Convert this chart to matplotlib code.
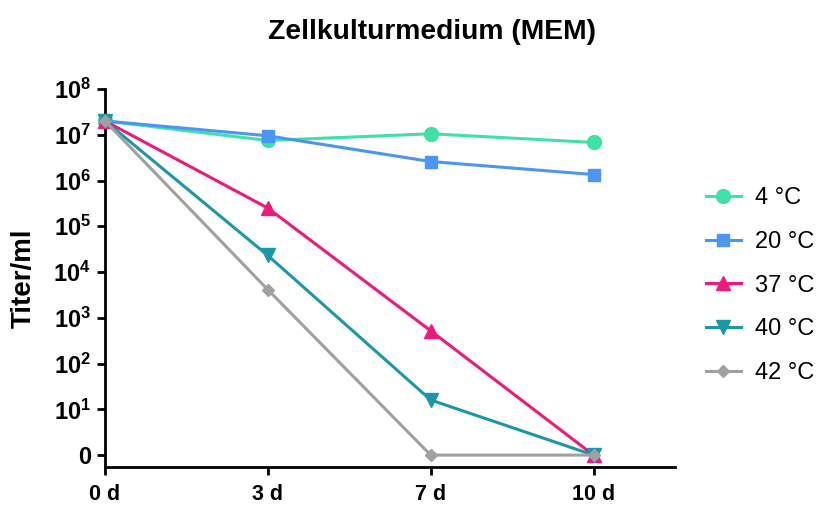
import matplotlib.pyplot as plt
from matplotlib.ticker import FixedLocator, NullLocator

plt.rcParams["font.family"] = ["Liberation Sans", "DejaVu Sans"]
plt.rcParams["mathtext.fontset"] = "custom"
plt.rcParams["mathtext.bf"] = "Liberation Sans:bold"
plt.rcParams["mathtext.rm"] = "Liberation Sans"

days = ["0 d", "3 d", "7 d", "10 d"]
# titers; 1 stands for "0" (below detection)
t4 = [2.0e7, 7.5e6, 1.05e7, 6.8e6]
t20 = [2.0e7, 9.5e6, 2.6e6, 1.35e6]
t37 = [2.0e7, 2.5e5, 5.2e2, 1]
t40 = [2.0e7, 2.3e4, 16, 1]
t42 = [2.0e7, 4.1e3, 1, 1]

series = [
    ("4 °C", t4, "#3ee2a4", "o", 10),
    ("20 °C", t20, "#4b95f3", "s", 9),
    ("37 °C", t37, "#ee1a7b", "^", 10),
    ("40 °C", t40, "#1b98a8", "v", 10),
    ("42 °C", t42, "#a0a0a0", "D", 6.5),
]

ytick_vals = [1, 1e1, 1e2, 1e3, 1e4, 1e5, 1e6, 1e7, 1e8]
ytick_labels = ["0"] + [rf"$\mathbf{{10^{{{i}}}}}$" for i in range(1, 9)]

fig = plt.figure(figsize=(8.18, 5.05), dpi=100)
ax = fig.add_axes([105 / 818, 38 / 505, 570 / 818, 378 / 505])

x = list(range(len(days)))
for name, vals, col, mk, ms in series:
    ax.plot(x, vals, color=col, marker=mk, markersize=ms, linewidth=2.2,
            label=name, clip_on=False, zorder=3)

ax.set_yscale("log")
ax.set_ylim(10 ** -0.26, 1e8)
ax.set_xlim(0, 3.5)
ax.yaxis.set_major_locator(FixedLocator(ytick_vals))
ax.yaxis.set_minor_locator(NullLocator())
ax.set_yticklabels(ytick_labels, fontsize=17, fontweight="bold")
ax.set_xticks(x)
ax.set_xticklabels(days, fontsize=15.5, fontweight="bold")

for side in ["top", "right"]:
    ax.spines[side].set_visible(False)
for side in ["left", "bottom"]:
    ax.spines[side].set_linewidth(2)
ax.tick_params(axis="both", width=2, length=6, pad=4)
ax.tick_params(axis="x", pad=6)

ax.set_ylabel("Titer/ml", fontsize=20, fontweight="bold", labelpad=12)
fig.text(432 / 818, 1 - 32 / 505, "Zellkulturmedium (MEM)", fontsize=20.3,
         fontweight="bold", ha="center", va="center")

ax.legend(loc="center left", bbox_to_anchor=(1.055, 0.48), frameon=False,
          fontsize=17, labelspacing=0.92, handlelength=1.45, handletextpad=0.6,
          borderpad=0, borderaxespad=0)

fig.savefig("out.png", dpi=100)
